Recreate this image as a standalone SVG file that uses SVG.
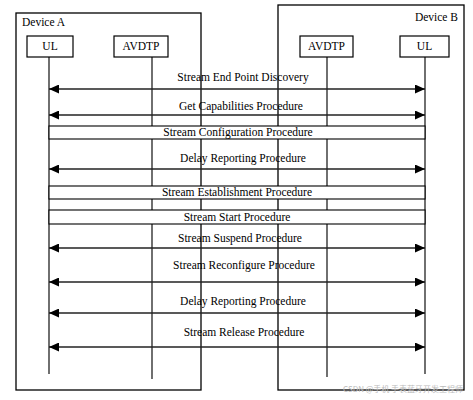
<svg xmlns="http://www.w3.org/2000/svg" width="473" height="400" viewBox="0 0 473 400">
<style>
text{font-family:"Liberation Serif","Times New Roman",serif;font-size:11.5px;fill:#000}
.c{text-anchor:middle}
.dev{fill:none;stroke:#000;stroke-width:1.3}
.obj{fill:#fff;stroke:#000;stroke-width:1.2}
.life{stroke:#222;stroke-width:1.3}
.arr{stroke:#222;stroke-width:1.6;marker-start:url(#hl);marker-end:url(#hr)}
.proc{fill:#fff;stroke:#000;stroke-width:1.1}
.wm{font-family:"Noto Sans CJK SC","Liberation Sans",sans-serif;font-size:8px;fill:#bbb}
</style>
<defs>
<marker id="hr" markerUnits="userSpaceOnUse" markerWidth="11" markerHeight="9" refX="10" refY="4.5" orient="auto"><path d="M0,0 L10,4.5 L0,9 Z" fill="#000"/></marker>
<marker id="hl" markerUnits="userSpaceOnUse" markerWidth="11" markerHeight="9" refX="0" refY="4.5" orient="auto"><path d="M10,0 L0,4.5 L10,9 Z" fill="#000"/></marker>
</defs>
<g id="deviceA">
<rect class="dev" x="16" y="13" width="185" height="377"/>
<text x="22" y="26">Device A</text>
</g>
<g id="deviceB">
<rect class="dev" x="278" y="5" width="186" height="385"/>
<text x="458" y="21" text-anchor="end">Device B</text>
</g>
<g id="lifelines">
<line class="life" x1="49" y1="57" x2="49" y2="374"/>
<line class="life" x1="152" y1="57" x2="152" y2="379"/>
<line class="life" x1="327" y1="57" x2="327" y2="377"/>
<line class="life" x1="425" y1="57" x2="425" y2="374"/>
</g>
<g id="ulA"><rect class="obj" x="27" y="36" width="46" height="21"/><text class="c" x="50" y="50">UL</text></g>
<g id="avdtpA"><rect class="obj" x="114" y="36" width="54" height="21"/><text class="c" x="141" y="50">AVDTP</text></g>
<g id="avdtpB"><rect class="obj" x="300" y="36" width="53" height="21"/><text class="c" x="326.5" y="50">AVDTP</text></g>
<g id="ulB"><rect class="obj" x="400" y="36" width="49" height="21"/><text class="c" x="424.5" y="50">UL</text></g>
<g id="connectors">
<line class="arr" x1="49" y1="89" x2="425" y2="89"/>
<text class="c" x="243" y="81">Stream End Point Discovery</text>
<line class="arr" x1="49" y1="115" x2="425" y2="115"/>
<text class="c" x="241" y="110">Get Capabilities Procedure</text>
<line class="arr" x1="49" y1="169" x2="425" y2="169"/>
<text class="c" x="243" y="162">Delay Reporting Procedure</text>
<line class="arr" x1="49" y1="248" x2="425" y2="248"/>
<text class="c" x="240" y="242">Stream Suspend Procedure</text>
<line class="arr" x1="49" y1="282" x2="425" y2="282"/>
<text class="c" x="244" y="269">Stream Reconfigure Procedure</text>
<line class="arr" x1="49" y1="313" x2="425" y2="313"/>
<text class="c" x="243" y="305">Delay Reporting Procedure</text>
<line class="arr" x1="49" y1="347" x2="425" y2="347"/>
<text class="c" x="244" y="336">Stream Release Procedure</text>
</g>
<g id="procConfig"><rect class="proc" x="49" y="126" width="376" height="13"/><text class="c" x="238" y="136">Stream Configuration Procedure</text></g>
<g id="procEstablish"><rect class="proc" x="49" y="186" width="376" height="13"/><text class="c" x="237" y="196">Stream Establishment Procedure</text></g>
<g id="procStart"><rect class="proc" x="49" y="210" width="376" height="14"/><text class="c" x="237" y="221">Stream Start Procedure</text></g>
<text class="wm" x="343" y="392">CSDN @手机 手表蓝牙开发工程师</text>
</svg>
